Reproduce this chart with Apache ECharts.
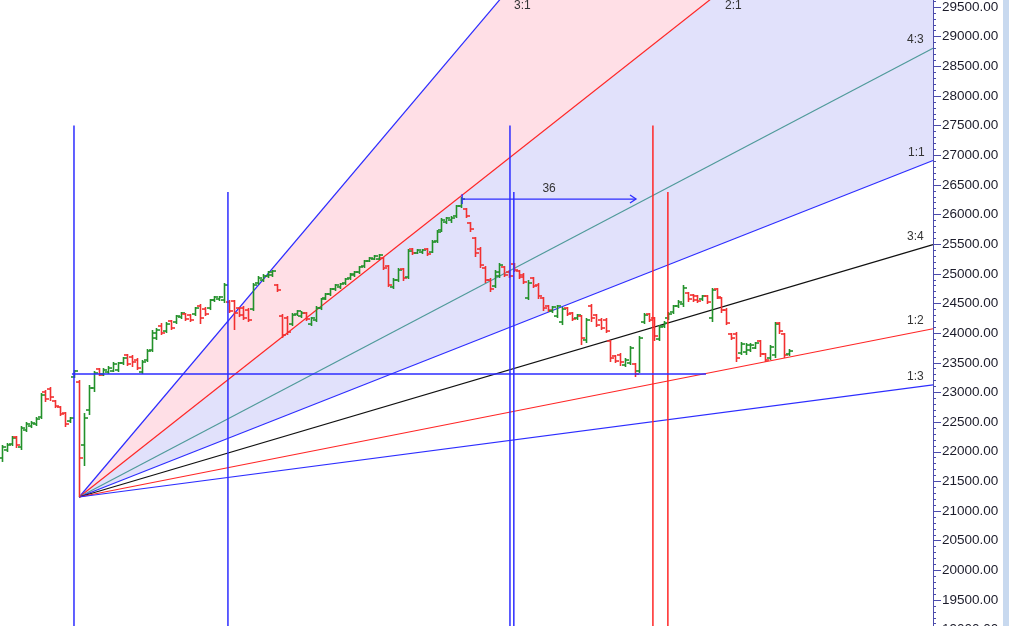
<!DOCTYPE html>
<html>
<head>
<meta charset="utf-8">
<title>Gann fan</title>
<script src="https://cdn.jsdelivr.net/npm/echarts@6/dist/echarts.min.js"></script>
<style>
  html, body { margin: 0; padding: 0; background: #fff; }
  #chart { width: 1009px; height: 626px; }
</style>
</head>
<body>
<div id="chart"></div>
<script>
  // daily OHLC, one entry per bar
  var opens = [21895,22030,22131,22249,22080,22367,22434,22468,22586,23008, 23058,22856,22754,22653,22518,23261,23176,22114,22704,23075,
    23396,23311,23345,23362,23379,23497,23632,23598,23547,23345, 23547,23716,23918,24121,24036,24205,24188,24272,24323,24306,
    24323,24458,24407,24424,24559,24576,24559,24525,24542,24424, 24424,24390,24407,24846,24896,24964,24981,24812,24289,24256,
    24154,24323,24289,24340,24154,24222,24424,24593,24660,24745, 24779,24846,24930,24981,25031,25132,25217,25250,25250,25267,
    25132,24779,24896,25082,24947,25419,25352,25368,25419,25368, 25554,25740,25874,25908,25976,26144,26094,25858,25604,25419,
    25099,24896,24795,24964,25116,25031,25166,25048,24981,24593, 24930,24812,24593,24458,24374,24289,24188,24424,24340,24256,
    24289,23885,24458,24306,24222,24222,23868,23615,23632,23463, 23497,23480,23362,24188,24323,24256,23901,24121,24256,24357,
    24458,24492,24677,24643,24627,24576,24627,24256,24745,24593, 24390,23986,23986,23665,23682,23716,23750,23868,23649,23581,
    23632,24171,23986,23649];
  var highs = [22114,22148,22266,22266,22434,22502,22518,22586,22991,23041, 23092,22873,22771,22670,22586,23379,23210,22653,23126,23362,
    23412,23412,23446,23514,23514,23598,23649,23632,23581,23547, 23733,24053,24087,24171,24188,24222,24306,24357,24340,24323,
    24441,24492,24441,24576,24627,24627,24846,24559,24559,24441, 24458,24424,24846,24964,24997,25048,25065,24829,24323,24289,
    24340,24390,24374,24357,24272,24458,24593,24677,24762,24829, 24846,24930,25014,25048,25132,25234,25284,25318,25335,25284,
    25149,24930,25099,25099,25419,25436,25419,25419,25436,25571, 25740,25942,25959,25976,26161,26296,26111,25874,25621,25453,
    25132,24930,25065,25183,25132,25065,25183,25065,25014,24896, 24947,24846,24610,24475,24458,24475,24441,24441,24357,24323,
    24306,24256,24492,24323,24256,24256,23885,23632,23665,23581, 23783,23497,23952,24340,24340,24272,24137,24205,24357,24475,
    24559,24812,24694,24660,24643,24643,24643,24762,24762,24610, 24424,24003,24019,23851,23834,23834,23851,23885,23665,23800,
    24188,24188,24003,23733];
  var lows = [21828,21996,22097,22063,22030,22333,22400,22434,22552,22839, 22856,22737,22603,22417,22485,23244,21237,21760,22620,23008,
    23277,23277,23311,23345,23345,23463,23446,23429,23379,23311, 23514,23682,23885,23969,24003,24053,24154,24239,24205,24188,
    24289,24154,24289,24390,24525,24542,24509,24340,24053,24272, 24222,24188,24374,24812,24863,24930,24947,24694,23918,23969,
    24121,24289,24256,24205,24121,24188,24390,24559,24627,24711, 24745,24812,24896,24947,24997,25099,25200,25234,25234,25065,
    24779,24745,24863,24880,24913,25318,25335,25335,25301,25352, 25520,25706,25841,25858,25942,26111,25942,25706,25284,25099,
    24846,24694,24762,24930,24947,24930,25031,24913,24829,24559, 24762,24576,24374,24357,24340,24256,24137,24289,24205,24222,
    23800,23834,24188,24104,24053,24003,23514,23497,23446,23429, 23463,23261,23328,24154,24188,23868,23868,24087,24222,24323,
    24424,24441,24525,24525,24509,24542,24492,24188,24576,24340, 24137,23885,23514,23632,23632,23682,23733,23598,23514,23547,
    23581,23986,23581,23615];
  var closes = [22080,22114,22232,22114,22400,22468,22485,22552,22957,22890, 22923,22771,22637,22468,22569,23362,21895,22569,23075,23328,
    23294,23379,23412,23480,23497,23581,23480,23514,23412,23514, 23699,24003,24053,24003,24154,24087,24289,24340,24239,24222,
    24424,24256,24323,24559,24610,24610,24812,24374,24340,24306, 24256,24222,24812,24930,24964,25031,25048,24728,23969,24019,
    24306,24374,24340,24239,24256,24424,24576,24660,24745,24812, 24829,24913,24997,25031,25116,25217,25267,25301,25318,25099,
    24812,24896,25065,24930,25385,25352,25402,25402,25335,25537, 25706,25908,25942,25942,26144,26262,25976,25756,25352,25149,
    24896,24745,25031,25149,24981,24964,25065,24947,24863,24846, 24795,24627,24424,24390,24441,24458,24407,24323,24239,24306,
    23918,24222,24256,24137,24087,24036,23581,23530,23514,23547, 23750,23311,23918,24306,24222,23952,24104,24171,24323,24458,
    24525,24762,24576,24559,24542,24627,24525,24728,24610,24390, 24171,23918,23581,23817,23800,23800,23834,23649,23547,23767,
    24154,24036,23632,23699];

  // gann fan, anchored on the low of bar 16
  var fanOrigin = 16;
  var fanPrice = lows[16];
  var fanUnit = 32.1;            // price per bar for 1:1
  var fanNames = ['3:1', '2:1', '4:3', '1:1', '3:4', '1:2', '1:3'];
  var fanRatios = [3, 2, 4 / 3, 1, 3 / 4, 1 / 2, 1 / 3];

  // vertical markers (bar index, top price) and the other drawings
  var vLineIdx = [14.92, 46.8, 105.2, 106.0, 134.8, 137.9];
  var vLineTop = [27500, 26380, 27500, 26380, 27500, 26380];
  var hLinePrice = 23311, hLineFrom = 14.5, hLineTo = 145.8;
  var arrowFrom = 95.3, arrowTo = 131.3, arrowPrice = 26262, arrowText = '36';

  var X_MIN = -0.4, X_MAX = 192.8;
  var BLUE = '#2d2dff', RED = '#ff2626';
  var fanColors = [BLUE, RED, '#4f9a9a', BLUE, '#111111', RED, BLUE];

  function fanEnd(k) {
    return fanPrice + fanRatios[k] * fanUnit * (X_MAX - fanOrigin);
  }

  var bars = opens.map(function (o, i) { return [i, o, highs[i], lows[i], closes[i]]; });

  var chart = echarts.init(document.getElementById('chart'));
  var series = [];

  // shaded bands: 3:1 - 2:1 pink, 2:1 - 1:1 lavender
  series.push({
    type: 'custom',
    z: 1,
    silent: true,
    data: [[0, 1, '#ffdfe6'], [1, 3, '#e1e1fb']],
    renderItem: function (params, api) {
      var a = api.value(0), b = api.value(1);
      var p0 = api.coord([fanOrigin, fanPrice]);
      var p1 = api.coord([X_MAX, fanEnd(a)]);
      var p2 = api.coord([X_MAX, fanEnd(b)]);
      return {
        type: 'polygon',
        shape: { points: [p0, p1, p2] },
        style: { fill: api.value(2), stroke: null }
      };
    }
  });

  fanNames.forEach(function (name, k) {
    series.push({
      type: 'line',
      name: name,
      z: 3,
      symbol: 'none',
      silent: true,
      lineStyle: { color: fanColors[k], width: 1.2 },
      data: [[fanOrigin, fanPrice], [X_MAX, fanEnd(k)]]
    });
  });

  // OHLC bars
  series.push({
    type: 'custom',
    z: 4,
    data: bars,
    renderItem: function (params, api) {
      var i = api.value(0);
      var o = api.coord([i, api.value(1)]);
      var h = api.coord([i, api.value(2)]);
      var l = api.coord([i, api.value(3)]);
      var c = api.coord([i, api.value(4)]);
      var col = api.value(4) >= api.value(1) ? '#22912a' : '#f23030';
      var x = Math.round(h[0]) + 0.5;
      var st = { stroke: col, lineWidth: 1.6 };
      return {
        type: 'group',
        children: [
          { type: 'line', shape: { x1: x, y1: h[1], x2: x, y2: l[1] }, style: st },
          { type: 'line', shape: { x1: x - 3.5, y1: o[1], x2: x, y2: o[1] }, style: st },
          { type: 'line', shape: { x1: x, y1: c[1], x2: x + 3.5, y2: c[1] }, style: st }
        ]
      };
    }
  });

  vLineIdx.forEach(function (xi, k) {
    series.push({
      type: 'line',
      z: 5,
      symbol: 'none',
      silent: true,
      lineStyle: { color: k >= 4 ? RED : BLUE, width: 1.5 },
      data: [[xi, vLineTop[k]], [xi, 19000]]
    });
  });

  series.push({
    type: 'line',
    z: 5,
    symbol: 'none',
    silent: true,
    lineStyle: { color: BLUE, width: 1.5 },
    data: [[hLineFrom, hLinePrice], [hLineTo, hLinePrice]]
  });

  // count arrow
  series.push({
    type: 'custom',
    z: 6,
    data: [[0]],
    renderItem: function (params, api) {
      var a = api.coord([arrowFrom, arrowPrice]);
      var b = api.coord([arrowTo, arrowPrice]);
      var st = { stroke: BLUE, lineWidth: 1.3, fill: null };
      return {
        type: 'group',
        children: [
          { type: 'line', shape: { x1: a[0], y1: a[1], x2: b[0], y2: b[1] }, style: st },
          { type: 'line', shape: { x1: a[0], y1: a[1] - 5, x2: a[0], y2: a[1] + 5 }, style: st },
          { type: 'polyline', shape: { points: [[b[0] - 6, b[1] - 4], [b[0], b[1]], [b[0] - 6, b[1] + 4]] }, style: st },
          { type: 'text', x: (a[0] + b[0]) / 2, y: a[1] - 4, style: { text: arrowText, fill: '#333', font: '12px "Liberation Sans", Arial', align: 'center', verticalAlign: 'bottom' } }
        ]
      };
    }
  });

  var labelPos = [[514, 0], [725, 0], [907, 34], [908, 147], [907, 231], [907, 315], [907, 371]];
  var graphics = fanNames.map(function (name, k) {
    return {
      type: 'text', left: labelPos[k][0], top: labelPos[k][1], z: 100,
      style: { text: name, fill: '#333', font: '12px "Liberation Sans", Arial' }
    };
  });
  graphics.push({ type: 'rect', right: 0, top: 0, z: 100, shape: { width: 6, height: 626 }, style: { fill: '#c8d9ef' } });

  chart.setOption({
    animation: false,
    backgroundColor: '#ffffff',
    grid: { left: 0, right: 76, top: -7.8, bottom: -3.65, outerBoundsMode: 'none', containLabel: false },
    xAxis: { type: 'value', min: X_MIN, max: X_MAX, show: false },
    yAxis: {
      type: 'value',
      position: 'right',
      min: 19000,
      max: 29750,
      interval: 500,
      splitLine: { show: false },
      axisLine: { show: true, onZero: false, lineStyle: { color: '#4b4bab', width: 1 } },
      axisTick: { show: true, length: 8, lineStyle: { color: '#4b4bab' } },
      minorTick: { show: true, splitNumber: 5, length: 3, lineStyle: { color: '#4b4bab' } },
      axisLabel: {
        showMaxLabel: false,
        margin: 9,
        color: '#1b1b2a',
        fontSize: 13.5,
        fontFamily: '"Liberation Sans", Arial',
        formatter: function (v) { return v.toFixed(2); }
      }
    },
    graphic: graphics,
    series: series
  });
</script>
</body>
</html>
